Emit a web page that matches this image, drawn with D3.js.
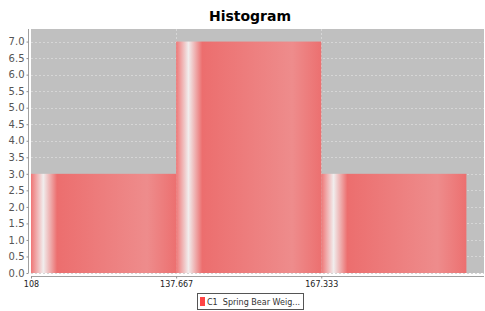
<!DOCTYPE html>
<html>
<head>
<meta charset="utf-8">
<script src="https://cdn.jsdelivr.net/npm/d3@7"></script>
<style>
  body { margin: 0; background: #fff; }
  svg { display: block; font-family: "DejaVu Sans", sans-serif; }
</style>
</head>
<body>
<div id="chart"></div>
<script>
var binEdges = [108, 137.667, 167.333, 197];
var binCounts = [3, 7, 3];
var xTickValues = [108, 137.667, 167.333];
var xTickLabels = ["108", "137.667", "167.333"];
var yTickValues = d3.range(0, 7.01, 0.5);
var seriesName = "C1  Spring Bear Weig...";

var width = 485,
    height = 311;
var plot = { left: 31, right: 484, top: 29, bottom: 273 };

var bins = binCounts.map(function(c, i) {
  return { x0: binEdges[i], x1: binEdges[i + 1], count: c };
});

var x = d3.scaleLinear().domain([108, 200.6]).range([plot.left, plot.right]);
var y = d3.scaleLinear().domain([0, 7.38]).range([plot.bottom, plot.top]);

var svg = d3.select("#chart").append("svg")
  .attr("width", width)
  .attr("height", height);

// bar gradient, like the java gradient bar painter
var grad = svg.append("defs").append("linearGradient")
  .attr("id", "barGrad")
  .attr("x1", 0).attr("x2", 1).attr("y1", 0).attr("y2", 0);
[[0, "#ef7676"], [0.085, "#f1eded"], [0.18, "#ec6e6e"], [0.8, "#ee8c8c"], [1, "#ec7070"]]
  .forEach(function(s) {
    grad.append("stop").attr("offset", s[0]).attr("stop-color", s[1]);
  });

// title
svg.append("text")
  .attr("x", 250)
  .attr("y", 21)
  .attr("text-anchor", "middle")
  .attr("font-size", "14px")
  .attr("font-weight", "bold")
  .text("Histogram");

// plot background
svg.append("rect")
  .attr("x", plot.left)
  .attr("y", plot.top)
  .attr("width", plot.right - plot.left)
  .attr("height", plot.bottom - plot.top)
  .attr("fill", "#c0c0c0");

// gridlines
svg.append("g")
  .selectAll("line")
  .data(yTickValues)
  .enter().append("line")
    .attr("x1", plot.left)
    .attr("x2", plot.right)
    .attr("y1", function(d) { return Math.round(y(d)) + 0.5; })
    .attr("y2", function(d) { return Math.round(y(d)) + 0.5; })
    .attr("stroke", "#d6d6d6")
    .attr("stroke-dasharray", "2,2");

svg.append("g")
  .selectAll("line")
  .data(xTickValues.slice(1))
  .enter().append("line")
    .attr("x1", function(d) { return Math.round(x(d)) + 0.5; })
    .attr("x2", function(d) { return Math.round(x(d)) + 0.5; })
    .attr("y1", plot.top)
    .attr("y2", plot.bottom)
    .attr("stroke", "#d6d6d6")
    .attr("stroke-dasharray", "2,2");

// bars
svg.append("g")
  .selectAll("rect")
  .data(bins)
  .enter().append("rect")
    .attr("x", function(d) { return x(d.x0); })
    .attr("width", function(d) { return x(d.x1) - x(d.x0); })
    .attr("y", function(d) { return y(d.count); })
    .attr("height", function(d) { return y(0) - y(d.count); })
    .attr("fill", "url(#barGrad)");

// y axis
var yAxis = d3.axisLeft(y)
  .tickValues(yTickValues)
  .tickFormat(d3.format(".1f"))
  .tickSize(2)
  .tickPadding(2)
  .tickSizeOuter(0);

var gy = svg.append("g")
  .attr("transform", "translate(" + 28.5 + ",0)")
  .call(yAxis);
gy.select(".domain").attr("stroke", "#a0a0a0").attr("d", "M0," + plot.top + "V" + plot.bottom);
gy.selectAll(".tick line").attr("stroke", "#909090");
gy.selectAll(".tick text")
  .attr("font-size", "10px")
  .attr("font-family", "DejaVu Sans, sans-serif")
  .attr("fill", "#555");

// x axis
var xAxis = d3.axisBottom(x)
  .tickValues(xTickValues)
  .tickFormat(function(d, i) { return xTickLabels[i]; })
  .tickSize(2)
  .tickPadding(3)
  .tickSizeOuter(0);

var gx = svg.append("g")
  .attr("transform", "translate(0," + 276.5 + ")")
  .call(xAxis);
gx.select(".domain").attr("stroke", "#a0a0a0").attr("d", "M" + plot.left + ",0H" + plot.right);
gx.selectAll(".tick line").attr("stroke", "#909090");
gx.selectAll(".tick text")
  .attr("font-size", "8px")
  .attr("font-family", "DejaVu Sans, sans-serif")
  .attr("fill", "#222");

// legend
var legend = svg.append("g").attr("transform", "translate(197,293)");
legend.append("rect")
  .attr("x", 0.5).attr("y", 0.5)
  .attr("width", 106).attr("height", 16)
  .attr("fill", "#fff")
  .attr("stroke", "#555");
legend.append("rect")
  .attr("x", 3).attr("y", 4)
  .attr("width", 5).attr("height", 9)
  .attr("fill", "#f44");
legend.append("text")
  .attr("x", 10)
  .attr("y", 12)
  .attr("font-size", "9.5px")
  .attr("font-family", "DejaVu Sans, sans-serif")
  .attr("fill", "#333")
  .attr("textLength", 93)
  .attr("lengthAdjust", "spacingAndGlyphs")
  .style("white-space", "pre")
  .text(seriesName);
</script>
</body>
</html>
